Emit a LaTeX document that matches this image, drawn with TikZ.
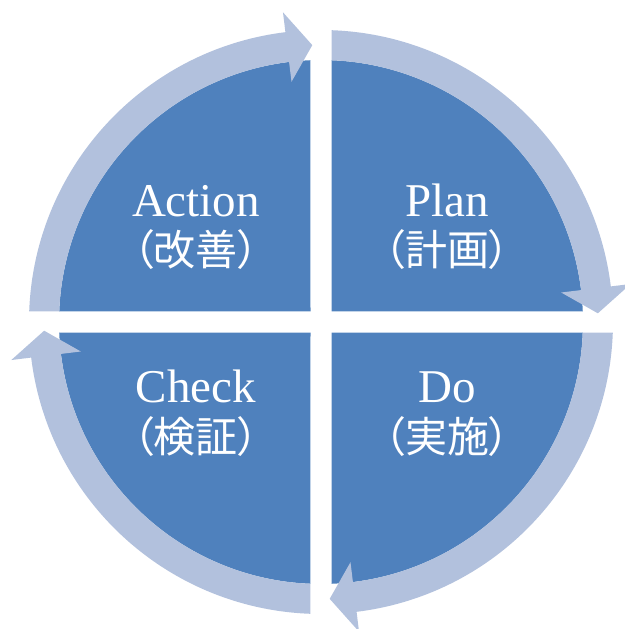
\documentclass[tikz,border=0pt]{standalone}
\usepackage{fontspec}
\setmainfont{Liberation Serif}
\newfontfamily\jpfont[RawFeature=+palt]{Noto Sans CJK JP}
\definecolor{quadblue}{RGB}{79,129,189}
\definecolor{ringblue}{RGB}{178,193,221}
\begin{document}
\begin{tikzpicture}[x=1pt,y=1pt,
    en/.style={text=white,anchor=base,inner sep=0pt,font=\fontsize{47}{50}\selectfont},
    ja/.style={text=white,inner sep=0pt,font=\jpfont\fontsize{42}{46}\selectfont}]
    \useasboundingbox (-321,-307) rectangle (303,322);
    % the four quarters
    \fill[quadblue] (10.5,10.5) -- (2.3:262pt) arc[start angle=2.3,end angle=87.7,radius=262pt] -- cycle;
    \fill[quadblue] (-10.5,10.5) -- (92.3:262pt) arc[start angle=92.3,end angle=177.7,radius=262pt] -- cycle;
    \fill[quadblue] (-10.5,-10.5) -- (182.3:262pt) arc[start angle=182.3,end angle=267.7,radius=262pt] -- cycle;
    \fill[quadblue] (10.5,-10.5) -- (272.3:262pt) arc[start angle=272.3,end angle=357.7,radius=262pt] -- cycle;
    % ring arrows, clockwise
    \fill[ringblue] (177.9:292pt) arc[start angle=177.9,end angle=97,radius=292pt] -- (97:312pt) -- (91.8:277pt)
        -- (97:242pt) -- (97:262pt) arc[start angle=97,end angle=177.7,radius=262pt] -- cycle;
    \fill[ringblue] (87.9:292pt) arc[start angle=87.9,end angle=7,radius=292pt] -- (7:312pt) -- (1.8:277pt)
        -- (7:242pt) -- (7:262pt) arc[start angle=7,end angle=87.7,radius=262pt] -- cycle;
    \fill[ringblue] (-2.1:292pt) arc[start angle=-2.1,end angle=-83,radius=292pt] -- (-83:312pt) -- (-88.2:277pt)
        -- (-83:242pt) -- (-83:262pt) arc[start angle=-83,end angle=-2.3,radius=262pt] -- cycle;
    \fill[ringblue] (-92.1:292pt) arc[start angle=-92.1,end angle=-173,radius=292pt] -- (-173:312pt) -- (-178.2:277pt)
        -- (-173:242pt) -- (-173:262pt) arc[start angle=-173,end angle=-92.3,radius=262pt] -- cycle;
    % labels
    \node[en] (plan) at (126,105) {Plan};
    \node[ja] (planja) at (126,72) {（計画）};
    \node[en] (do) at (126,-80) {Do};
    \node[ja] (doja) at (126,-115) {（実施）};
    \node[en] (check) at (-125,-80) {Check};
    \node[ja] (checkja) at (-125,-115) {（検証）};
    \node[en] (action) at (-125,105) {Action};
    \node[ja] (actionja) at (-125,72) {（改善）};
\end{tikzpicture}
\end{document}
